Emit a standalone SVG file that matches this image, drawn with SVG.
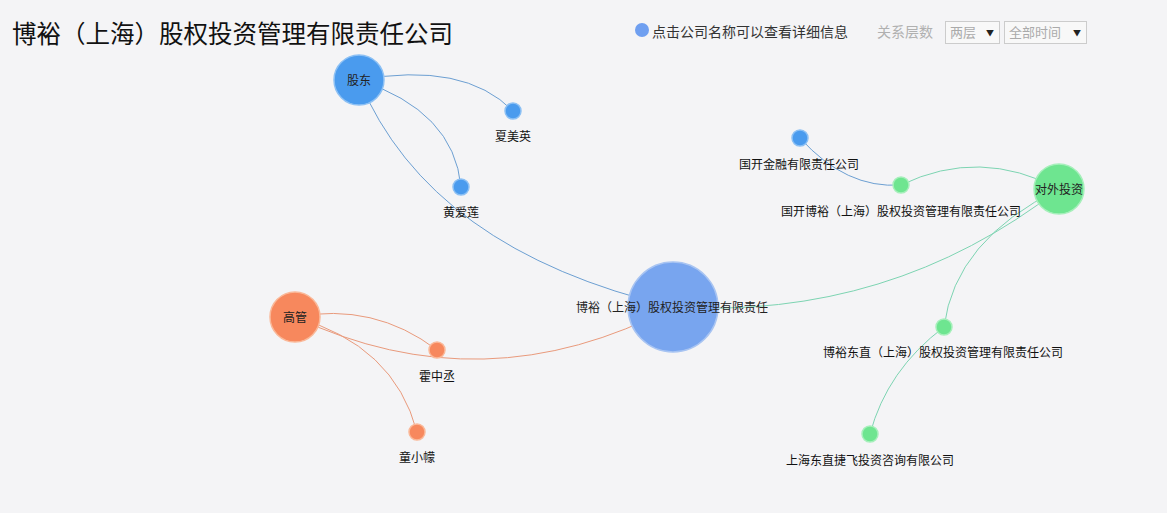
<svg xmlns="http://www.w3.org/2000/svg" width="1167" height="513" viewBox="0 0 1167 513">
<style>
text{font-family:"Microsoft YaHei","Noto Sans CJK SC",sans-serif;}
.lbl{font-size:12px;fill:#111;text-anchor:middle;}
.in{font-size:12px;fill:#222;text-anchor:middle;}
.eb{fill:none;stroke:#6c9fd2;stroke-width:1;}
.eo{fill:none;stroke:#e99a7c;stroke-width:1;}
.eg{fill:none;stroke:#7dd4b2;stroke-width:1;}
.nb{fill:#4a9bee;stroke:#8cc0f4;stroke-width:1.5;}
.no{fill:#f7885d;stroke:#fab898;stroke-width:1.5;}
.ng{fill:#6ee590;stroke:#a6efbb;stroke-width:1.5;}
.nm{fill:#78a5ef;stroke:#a8c4f2;stroke-width:1.5;}
</style>
<rect width="1167" height="513" fill="#f4f4f6"/>
<g id="header">
<text x="12" y="43" style="font-size:24.5px;fill:#111">博裕（上海）股权投资管理有限责任公司</text>
<circle cx="642" cy="30" r="7" fill="#6f9ff0"/>
<text x="652" y="37" style="font-size:14px;fill:#333">点击公司名称可以查看详细信息</text>
<text x="877" y="37" style="font-size:14px;fill:#b0b0b0">关系层数</text>
<rect x="945.5" y="21.5" width="54" height="22" fill="#f8f8f8" stroke="#ccc"/>
<text x="950" y="37" style="font-size:13px;fill:#aaa">两层</text>
<text x="986" y="36" style="font-size:8px;fill:#222">▼</text>
<rect x="1004.5" y="21.5" width="82" height="22" fill="#f8f8f8" stroke="#ccc"/>
<text x="1009" y="37" style="font-size:13px;fill:#aaa">全部时间</text>
<text x="1073" y="36" style="font-size:8px;fill:#222">▼</text>
</g>
<g id="connectors">
<path class="eb" d="M359,80 Q464,61 513,111"/>
<path class="eb" d="M359,80 Q454,111 461,187"/>
<path class="eb" d="M359,80 Q430,250 673,307"/>
<path class="eo" d="M295,317 Q374,302 437,350"/>
<path class="eo" d="M295,317 Q394,345 417,432"/>
<path class="eo" d="M673,307 Q484,406 295,317"/>
<path class="eb" d="M800,138 Q846,189 901,185"/>
<path class="eg" d="M901,185 Q980,147 1059,189"/>
<path class="eg" d="M673,307 Q890,320 1059,189"/>
<path class="eg" d="M1059,189 Q955,240 944,327"/>
<path class="eg" d="M944,327 Q887,370 870,434"/>
</g>
<g id="n-gudong"><circle class="nb" cx="359" cy="80" r="25"/><text class="in" x="359" y="85">股东</text></g>
<g id="n-xiameiying"><circle class="nb" cx="513" cy="111" r="8"/><text class="lbl" x="513" y="141">夏美英</text></g>
<g id="n-huangailian"><circle class="nb" cx="461" cy="187" r="8"/><text class="lbl" x="461" y="217">黄爱莲</text></g>
<g id="n-main"><circle class="nm" cx="673" cy="307" r="45"/><text class="in" x="672" y="312">博裕（上海）股权投资管理有限责任</text></g>
<g id="n-gaoguan"><circle class="no" cx="295" cy="317" r="25"/><text class="in" x="295" y="322">高管</text></g>
<g id="n-huozhongcheng"><circle class="no" cx="437" cy="350" r="8"/><text class="lbl" x="437" y="381">霍中丞</text></g>
<g id="n-tongxiaomeng"><circle class="no" cx="417" cy="432" r="8"/><text class="lbl" x="417" y="462">童小幪</text></g>
<g id="n-duiwai"><circle class="ng" cx="1059" cy="189" r="25"/><text class="in" x="1059" y="194">对外投资</text></g>
<g id="n-guokaijinrong"><circle class="nb" cx="800" cy="138" r="8"/><text class="lbl" x="799" y="169">国开金融有限责任公司</text></g>
<g id="n-guokaiboyu"><circle class="ng" cx="901" cy="185" r="8"/><text class="lbl" x="901" y="216">国开博裕（上海）股权投资管理有限责任公司</text></g>
<g id="n-boyudongzhi"><circle class="ng" cx="944" cy="327" r="8"/><text class="lbl" x="943" y="357">博裕东直（上海）股权投资管理有限责任公司</text></g>
<g id="n-dongzhijiefei"><circle class="ng" cx="870" cy="434" r="8"/><text class="lbl" x="870" y="465">上海东直捷飞投资咨询有限公司</text></g>
</svg>
